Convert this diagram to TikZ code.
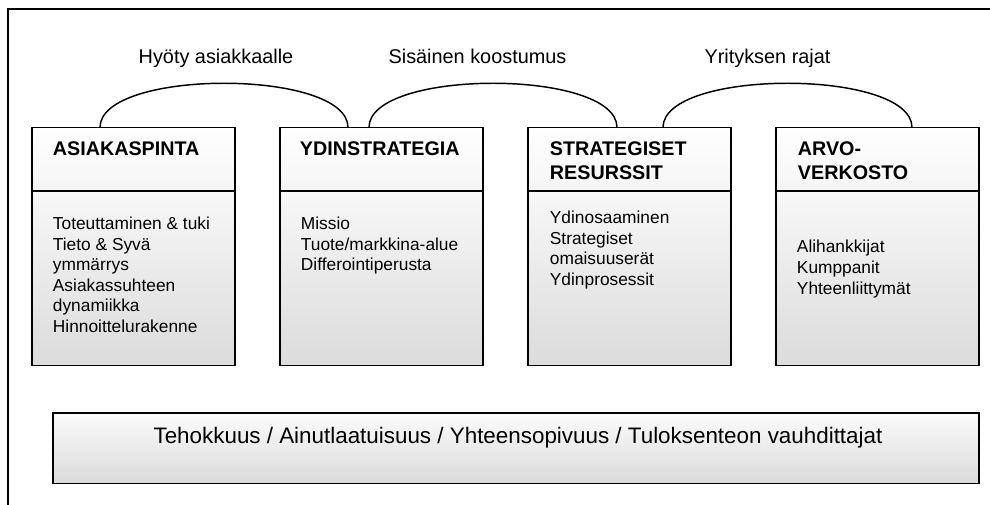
\documentclass[tikz,border=0pt]{standalone}
\usepackage{fontspec}
\setmainfont{Liberation Sans}
\usetikzlibrary{positioning, calc}

\begin{document}
\begin{tikzpicture}[x=0.75pt, y=-0.75pt, line width=1.4pt, font=\fontsize{13}{15.4}\selectfont]
    \tikzstyle{headbox}=[draw=black, rectangle, anchor=north west, outer sep=0pt, minimum width=152.25pt, minimum height=47.6pt, top color=white, bottom color=gray!8]
    \tikzstyle{bodybox}=[draw=black, rectangle, anchor=north west, outer sep=0pt, minimum width=152.25pt, minimum height=130.9pt, top color=gray!6, bottom color=gray!28]
    \tikzstyle{headtext}=[anchor=north west, inner sep=0pt, align=left, font=\fontsize{14.8}{18}\selectfont\bfseries]
    \tikzstyle{bodytext}=[anchor=north west, inner sep=0pt, align=left]
    \tikzstyle{arclabel}=[anchor=base, inner sep=0pt, font=\fontsize{14.9}{18}\selectfont]
    \useasboundingbox (0,0) rectangle (990,504);
    \draw (8,510) -- (8,9) -- (1000,9);

    % the four boxes
    \node[headbox] (h1) at (32,127.5) {};
    \node[bodybox] (b1) at (h1.south west) {};
    \node[headbox] (h2) at (280,127.5) {};
    \node[bodybox] (b2) at (h2.south west) {};
    \node[headbox] (h3) at (528,127.5) {};
    \node[bodybox] (b3) at (h3.south west) {};
    \node[headbox] (h4) at (776,127.5) {};
    \node[bodybox] (b4) at (h4.south west) {};

    \node[headtext] (t1) at (52,141) {ASIAKASPINTA};
    \node[headtext] (t2) at (299,141) {YDINSTRATEGIA};
    \node[headtext] (t3) at (549,141) {STRATEGISET\\RESURSSIT};
    \node[headtext] (t4) at (797,141) {ARVO-\\VERKOSTO};

    \node[bodytext] (l1) at (52,216) {Toteuttaminen \& tuki\\Tieto \& Syvä\\ymmärrys\\Asiakassuhteen\\dynamiikka\\Hinnoittelurakenne};
    \node[bodytext] (l2) at (300,216) {Missio\\Tuote/markkina-alue\\Differointiperusta};
    \node[bodytext] (l3) at (549,210) {Ydinosaaminen\\Strategiset\\omaisuuserät\\Ydinprosessit};
    \node[bodytext] (l4) at (796,239.5) {Alihankkijat\\Kumppanit\\Yhteenliittymät};

    % arcs between the boxes
    \draw[line width=1.1pt] ($(h1.north west)+(68,0)$) .. controls +(0,-59) and +(0,-59) .. ($(h2.north west)+(68,0)$);
    \draw[line width=1.1pt] ($(h2.north west)+(89,0)$) .. controls +(0,-59) and +(0,-59) .. ($(h3.north west)+(89,0)$);
    \draw[line width=1.1pt] ($(h3.north west)+(135,0)$) .. controls +(0,-59) and +(0,-59) .. ($(h4.north west)+(136,0)$);

    \node[arclabel] (a1) at (216,63) {Hyöty asiakkaalle};
    \node[arclabel] (a2) at (477.5,63) {Sisäinen koostumus};
    \node[arclabel] (a3) at (767.5,63) {Yrityksen rajat};

    % bottom bar
    \node[draw=black, rectangle, anchor=north west, outer sep=0pt, minimum width=694.5pt, minimum height=52.9pt, top color=gray!3, bottom color=gray!29] (base) at (53,413) {};
    \node[anchor=base, inner sep=0pt, font=\fontsize{16.8}{20}\selectfont] (bt) at (518,443) {Tehokkuus / Ainutlaatuisuus / Yhteensopivuus / Tuloksenteon vauhdittajat};
\end{tikzpicture}
\end{document}
